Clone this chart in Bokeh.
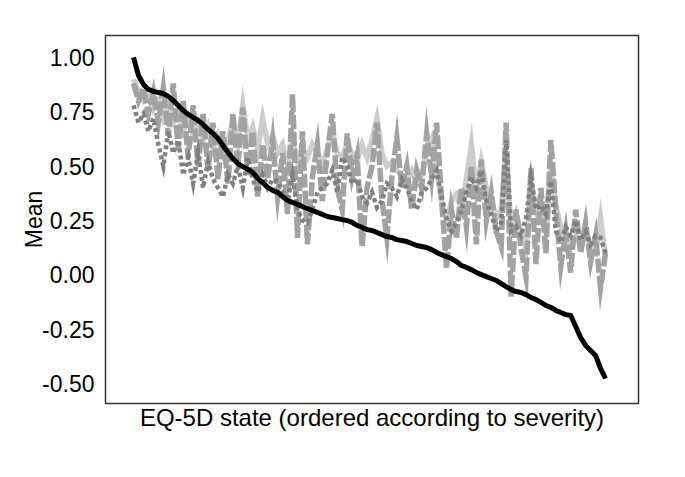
from bokeh.plotting import figure
from bokeh.models import Range1d, FixedTicker, NumeralTickFormatter, ColumnDataSource
from bokeh.embed import file_html
from bokeh.resources import INLINE

# Mean utility per EQ-5D state (ordered according to severity)
black_vals = [1.00, .917, .876, .853, .844, .839, .834, .821, .802, .779, .756, .738, .724, .710,
              .692, .669, .650, .627, .595, .563, .535, .512, .498, .485, .471, .443, .425, .402,
              .388, .379, .360, .342, .333, .324, .314, .305, .296, .287, .278, .268, .264, .259,
              .254, .250, .241, .227, .218, .208, .204, .195, .185, .176, .172, .162, .158, .153,
              .144, .135, .130, .126, .116, .103, .093, .084, .075, .061, .043, .034, .024, .011,
              .001, -.008, -.017, -.026, -.040, -.054, -.068, -.077, -.081, -.091, -.104, -.114,
              -.127, -.141, -.150, -.164, -.173, -.183, -.187, -.238, -.289, -.325, -.348, -.371,
              -.431, -.477]

light_vals = [.90, .84, .80, .82, .76, .80, .72, .78, .70, .74, .66, .72, .64, .70, .62, .68, .58,
              .64, .56, .62, .70, .60, .78, .62, .68, .58, .72, .60, .64, .56, .60, .50, .62, .52,
              .58, .54, .60, .56, .50, .58, .66, .56, .54, .60, .56, .52, .60, .54, .62, .72, .56,
              .50, .52, .48, .46, .44, .48, .42, .46, .56, .62, .48, .34, .25, .34, .37, .30, .44,
              .60, .38, .52, .40, .35, .26, .30, .56, .20, .28, .20, .12, .42, .30, .36, .20, .50,
              .32, .22, .16, .12, .18, .14, .20, .12, .10, .26, .08, .02]

medium_vals = [.88, .80, .86, .74, .84, .70, .86, .64, .88, .58, .80, .54, .78, .50, .74, .48, .70,
               .44, .66, .42, .74, .50, .77, .46, .66, .36, .60, .44, .62, .36, .56, .28, .83, .17,
               .66, .14, .45, .60, .34, .56, .74, .40, .30, .65, .45, .55, .13, .40, .50, .70, .35,
               .17, .45, .63, .40, .50, .30, .48, .40, .65, .45, .70, .35, .03, .30, .17, .40, .22,
               .50, .14, .53, .25, .38, .20, .13, .70, -.10, .30, .12, -.01, .49, .05, .40, .10,
               .62, .30, .04, .20, .01, .30, .10, .24, .06, .18, -.06, .10, -.14]

dark_vals = [.78, .70, .74, .66, .72, .60, .50, .66, .56, .62, .46, .54, .42, .56, .40, .52, .44,
             .40, .36, .46, .42, .50, .40, .54, .44, .38, .46, .40, .44, .43, .38, .34, .46, .30,
             .25, .24, .30, .38, .40, .42, .48, .38, .54, .50, .42, .44, .36, .33, .38, .31, .34,
             .42, .40, .36, .44, .40, .34, .30, .38, .40, .44, .48, .36, .26, .20, .24, .30, .38,
             .45, .40, .48, .34, .28, .20, .24, .62, .20, .22, .18, .26, .45, .30, .32, .28, .43,
             .20, .15, .22, .18, .25, .16, .20, .14, .18, .17, .10, .05]

y_ticks = [-0.50, -0.25, 0.00, 0.25, 0.50, 0.75, 1.00]
x_label = "EQ-5D state (ordered according to severity)"
y_label = "Mean"

states = list(range(len(black_vals)))
src = ColumnDataSource(dict(x=states, black=black_vals, light=light_vals,
                            medium=medium_vals, dark=dark_vals))

p = figure(width=670, height=460, output_backend="svg", toolbar_location=None,
           x_range=Range1d(-5.64, 101.64), y_range=Range1d(-0.592, 1.101),
           min_border_left=105, min_border_right=32, min_border_top=35, min_border_bottom=57,
           background_fill_color="white", border_fill_color="white")
p.frame_width = 533
p.frame_height = 368

p.line("x", "light", source=src, line_color="#cdcdcd", line_width=5.5, line_join="miter")
p.line("x", "medium", source=src, line_color="#a2a2a2", line_width=5.5,
       line_dash="14 3", line_join="miter")
p.line("x", "dark", source=src, line_color="#808080", line_width=4.5,
       line_dash="4 3", line_join="miter")
p.line("x", "black", source=src, line_color="black", line_width=5, line_join="round")

p.xgrid.visible = False
p.ygrid.visible = False
p.outline_line_color = "#333333"
p.outline_line_width = 1.5

ya = p.yaxis[0]
ya.ticker = FixedTicker(ticks=y_ticks)
ya.formatter = NumeralTickFormatter(format="0.00")
ya.axis_line_color = None
ya.major_tick_line_color = None
ya.minor_tick_line_color = None
ya.major_label_standoff = 5
ya.major_label_text_font = "Liberation Sans"
ya.major_label_text_font_size = "23px"
ya.major_label_text_color = "black"
ya.axis_label = y_label
ya.axis_label_text_font = "Liberation Sans"
ya.axis_label_text_font_size = "23px"
ya.axis_label_text_font_style = "normal"
ya.axis_label_text_color = "black"
ya.axis_label_standoff = -8

xa = p.xaxis[0]
xa.ticker = FixedTicker(ticks=[])
xa.axis_line_color = None
xa.major_tick_line_color = None
xa.minor_tick_line_color = None
xa.major_label_text_font_size = "0px"
xa.axis_label = x_label
xa.axis_label_text_font = "Liberation Sans"
xa.axis_label_text_font_size = "24px"
xa.axis_label_text_font_style = "normal"
xa.axis_label_text_color = "black"
xa.axis_label_standoff = 0

open("out.html", "w").write(file_html(p, INLINE))
